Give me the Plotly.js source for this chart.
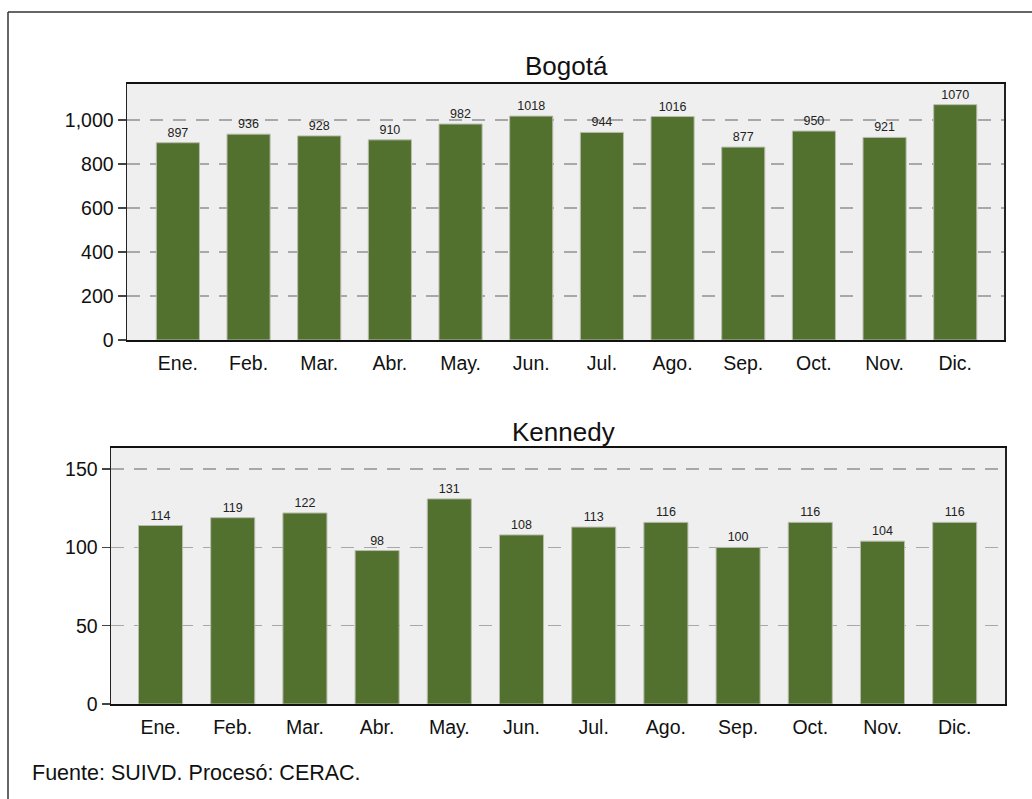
<!DOCTYPE html>
<html>
<head>
<meta charset="utf-8">
<script src="https://cdn.plot.ly/plotly-3.0.1.min.js"></script>
<style>html,body{margin:0;padding:0;background:#fff;}#chart{width:1032px;height:799px;}</style>
</head>
<body>
<div id="chart"></div>
<script>
const months = ["Ene.", "Feb.", "Mar.", "Abr.", "May.", "Jun.", "Jul.", "Ago.", "Sep.", "Oct.", "Nov.", "Dic."];
const bogota = [897, 936, 928, 910, 982, 1018, 944, 1016, 877, 950, 921, 1070];
const kennedy = [114, 119, 122, 98, 131, 108, 113, 116, 100, 116, 104, 116];
const titleTop = "Bogotá";
const titleBottom = "Kennedy";
const footer = "Fuente: SUIVD. Procesó: CERAC.";
const bogotaTicks = [0, 200, 400, 600, 800, 1000];
const kennedyTicks = [0, 50, 100, 150];

const W = 1032, H = 799;
const px = v => v / W;
const py = v => 1 - v / H;
const FONT = "Arial, 'Liberation Sans', sans-serif";
const barColor = "#53712e";

const barTrace = (y, xa, ya) => ({
  type: "bar", x: months, y: y, xaxis: xa, yaxis: ya,
  marker: {color: barColor, line: {color: "#b8bcae", width: 1}},
  text: y.map(String), textposition: "outside", constraintext: "none",
  textfont: {family: FONT, size: 12.5, color: "#222"},
  cliponaxis: false, hoverinfo: "skip", showlegend: false
});

const xCommon = {
  type: "category", showline: true, linecolor: "#111", linewidth: 2, mirror: true,
  ticks: "outside", ticklen: 5, tickcolor: "rgba(0,0,0,0)",
  tickfont: {family: FONT, size: 19.5, color: "#111"}, showgrid: false, zeroline: false, fixedrange: true
};
const yCommon = {
  showline: true, linecolor: "#222", linewidth: 1.5, mirror: true,
  ticks: "outside", ticklen: 8, tickcolor: "#444", tickwidth: 1.5,
  tickfont: {family: FONT, size: 19.5, color: "#111"},
  showgrid: true, gridcolor: "#a8a8a8", gridwidth: 1.3, griddash: "13px,10px",
  zeroline: false, fixedrange: true
};

const layout = {
  width: W, height: H,
  margin: {l: 0, r: 0, t: 0, b: 0},
  paper_bgcolor: "#ffffff", plot_bgcolor: "#efefef",
  bargap: 0.39,
  font: {family: FONT},
  xaxis: Object.assign({}, xCommon, {domain: [px(127), px(1004)], anchor: "y", range: [-0.72, 11.69]}),
  yaxis: Object.assign({}, yCommon, {domain: [py(340), py(84)], anchor: "x", range: [0, 1164],
    tickvals: bogotaTicks, tickformat: ","}),
  xaxis2: Object.assign({}, xCommon, {domain: [px(111), px(1005)], anchor: "y2", range: [-0.686, 11.697]}),
  yaxis2: Object.assign({}, yCommon, {domain: [py(704), py(448)], anchor: "x2", range: [0, 163.5],
    tickvals: kennedyTicks}),
  annotations: [
    {text: titleTop, xref: "paper", yref: "paper", x: px(566), y: py(66), xanchor: "center", yanchor: "middle",
     showarrow: false, font: {family: FONT, size: 26, color: "#111"}},
    {text: titleBottom, xref: "paper", yref: "paper", x: px(563), y: py(432), xanchor: "center", yanchor: "middle",
     showarrow: false, font: {family: FONT, size: 26, color: "#111"}},
    {text: footer, xref: "paper", yref: "paper", x: px(30), y: py(773), xanchor: "left", yanchor: "middle",
     showarrow: false, font: {family: FONT, size: 21.5, color: "#111"}}
  ],
  shapes: [
    {type: "line", xref: "paper", yref: "paper", x0: px(8), x1: px(8), y0: -0.01, y1: py(12),
     line: {color: "#333", width: 1.5}},
    {type: "line", xref: "paper", yref: "paper", x0: px(8), x1: 1.01, y0: py(12), y1: py(12),
     line: {color: "#333", width: 1.5}}
  ]
};

Plotly.newPlot("chart", [barTrace(bogota, "x", "y"), barTrace(kennedy, "x2", "y2")], layout,
  {staticPlot: true, displayModeBar: false});
</script>
</body>
</html>
